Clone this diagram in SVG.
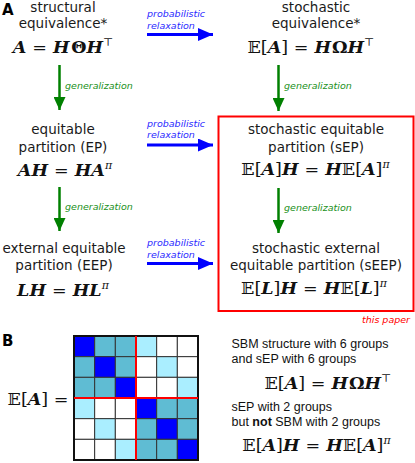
<svg xmlns="http://www.w3.org/2000/svg" width="415" height="463" viewBox="0 0 415 463">
<style>
.lbl{font-family:"DejaVu Sans",sans-serif;font-size:13.5px;fill:#1a1a1a;text-anchor:middle}
.math{font-family:"DejaVu Serif","Liberation Serif",serif;font-size:17.5px;font-weight:bold;font-style:italic;fill:#111;text-anchor:middle}
.up{font-weight:normal;font-style:normal}
.ug{font-style:normal}
.sup{font-size:11px}
.pi{font-size:11px;font-weight:normal}
.blue{font-family:"DejaVu Sans",sans-serif;font-style:italic;font-size:9.5px;fill:#2a2aff}
.green{font-family:"DejaVu Sans",sans-serif;font-style:italic;font-size:9.5px;fill:#1a901a}
.tag{font-family:"DejaVu Sans",sans-serif;font-weight:bold;font-size:15px;fill:#000}
.sans{font-family:"Liberation Sans",Arial,sans-serif;font-size:12.5px;fill:#111}
.barrow{stroke:#0000ff;stroke-width:3;fill:none}
.garrow{stroke:#008000;stroke-width:2.5;fill:none}
.cell{stroke:#333;stroke-width:1}
.d{fill:#0000ff}.m{fill:#5fbcd3}.l{fill:#aaeeff}.w{fill:#ffffff}
</style>
<defs>
<marker id="bh" markerUnits="userSpaceOnUse" markerWidth="16" markerHeight="13" refX="15" refY="6.5" orient="auto"><path d="M0,0 L15,6.5 L0,13 Z" fill="#0000ff"/></marker>
<marker id="gh" markerUnits="userSpaceOnUse" markerWidth="14" markerHeight="12" refX="13" refY="6" orient="auto"><path d="M0,0 L13,6 L0,12 Z" fill="#008000"/></marker>
</defs>

<text class="tag" x="2" y="15">A</text>
<text class="tag" x="2" y="346">B</text>

<g id="connectors">
<line class="barrow" x1="147" y1="34.5" x2="213" y2="34.5" marker-end="url(#bh)"/>
<line class="barrow" x1="147" y1="145" x2="213" y2="145" marker-end="url(#bh)"/>
<line class="barrow" x1="147" y1="263.5" x2="213" y2="263.5" marker-end="url(#bh)"/>
<text class="blue" x="147" y="17">probabilistic</text>
<text class="blue" x="147" y="29">relaxation</text>
<text class="blue" x="147" y="127">probabilistic</text>
<text class="blue" x="147" y="138">relaxation</text>
<text class="blue" x="147" y="246">probabilistic</text>
<text class="blue" x="147" y="258">relaxation</text>
<line class="garrow" x1="59.5" y1="65" x2="59.5" y2="110" marker-end="url(#gh)"/>
<line class="garrow" x1="59.5" y1="187" x2="59.5" y2="231" marker-end="url(#gh)"/>
<line class="garrow" x1="278.5" y1="65" x2="278.5" y2="111" marker-end="url(#gh)"/>
<line class="garrow" x1="278.5" y1="188" x2="278.5" y2="233" marker-end="url(#gh)"/>
<text class="green" x="65" y="89">generalization</text>
<text class="green" x="65" y="210">generalization</text>
<text class="green" x="284" y="89">generalization</text>
<text class="green" x="284" y="211">generalization</text>
</g>

<g id="se">
<text class="lbl" x="63" y="11.5">structural</text>
<text class="lbl" x="63" y="28">equivalence*</text>
<text class="math" x="63" y="53">A <tspan class="up">=</tspan> H<tspan class="ug" dx="1.5">Θ</tspan>H<tspan class="up sup" dy="-7">⊤</tspan></text>
</g>
<g id="stoch-se">
<text class="lbl" x="316" y="11.5">stochastic</text>
<text class="lbl" x="316" y="28">equivalence*</text>
<text class="math" x="311" y="53"><tspan class="up">𝔼[</tspan>A<tspan class="up">] =</tspan> H<tspan class="ug" dx="1">Ω</tspan>H<tspan class="up sup" dy="-7">⊤</tspan></text>
</g>
<g id="ep">
<text class="lbl" x="63" y="133.5">equitable</text>
<text class="lbl" x="63" y="151.5">partition (EP)</text>
<text class="math" x="65" y="176">AH <tspan class="up">=</tspan> HA<tspan class="pi" dy="-7">π</tspan></text>
</g>
<g id="sep">
<rect x="218.5" y="116.5" width="195" height="194.5" fill="none" stroke="#ff0000" stroke-width="2"/>
<text class="lbl" x="316" y="134">stochastic equitable</text>
<text class="lbl" x="316" y="151.5">partition (sEP)</text>
<text class="math" x="315.5" y="175"><tspan class="up">𝔼[</tspan>A<tspan class="up">]</tspan>H <tspan class="up">=</tspan> H<tspan class="up">𝔼[</tspan>A<tspan class="up">]</tspan><tspan class="pi" dy="-7">π</tspan></text>
</g>
<g id="eep">
<text class="lbl" x="64" y="252.5">external equitable</text>
<text class="lbl" x="64" y="270">partition (EEP)</text>
<text class="math" x="63" y="296">LH <tspan class="up">=</tspan> HL<tspan class="pi" dy="-7">π</tspan></text>
</g>
<g id="seep">
<text class="lbl" x="316" y="252.5">stochastic external</text>
<text class="lbl" x="316" y="270">equitable partition (sEEP)</text>
<text class="math" x="314" y="293.5"><tspan class="up">𝔼[</tspan>L<tspan class="up">]</tspan>H <tspan class="up">=</tspan> H<tspan class="up">𝔼[</tspan>L<tspan class="up">]</tspan><tspan class="pi" dy="-7">π</tspan></text>
<text x="410" y="323" text-anchor="end" style="font-family:'DejaVu Sans',sans-serif;font-style:italic;font-size:9.5px;fill:#ff0000">this paper</text>
</g>

<g id="matrix">
<text class="math" x="38" y="405"><tspan class="up">𝔼[</tspan>A<tspan class="up">] =</tspan></text>
<g class="cell">
<rect class="d" x="74" y="336" width="20.67" height="20.67"/><rect class="m" x="94.67" y="336" width="20.67" height="20.67"/><rect class="m" x="115.33" y="336" width="20.67" height="20.67"/><rect class="l" x="136" y="336" width="20.67" height="20.67"/><rect class="w" x="156.67" y="336" width="20.67" height="20.67"/><rect class="w" x="177.33" y="336" width="20.67" height="20.67"/>
<rect class="m" x="74" y="356.67" width="20.67" height="20.67"/><rect class="d" x="94.67" y="356.67" width="20.67" height="20.67"/><rect class="m" x="115.33" y="356.67" width="20.67" height="20.67"/><rect class="w" x="136" y="356.67" width="20.67" height="20.67"/><rect class="l" x="156.67" y="356.67" width="20.67" height="20.67"/><rect class="w" x="177.33" y="356.67" width="20.67" height="20.67"/>
<rect class="m" x="74" y="377.33" width="20.67" height="20.67"/><rect class="m" x="94.67" y="377.33" width="20.67" height="20.67"/><rect class="d" x="115.33" y="377.33" width="20.67" height="20.67"/><rect class="w" x="136" y="377.33" width="20.67" height="20.67"/><rect class="w" x="156.67" y="377.33" width="20.67" height="20.67"/><rect class="l" x="177.33" y="377.33" width="20.67" height="20.67"/>
<rect class="l" x="74" y="398" width="20.67" height="20.67"/><rect class="w" x="94.67" y="398" width="20.67" height="20.67"/><rect class="w" x="115.33" y="398" width="20.67" height="20.67"/><rect class="d" x="136" y="398" width="20.67" height="20.67"/><rect class="m" x="156.67" y="398" width="20.67" height="20.67"/><rect class="m" x="177.33" y="398" width="20.67" height="20.67"/>
<rect class="w" x="74" y="418.67" width="20.67" height="20.67"/><rect class="l" x="94.67" y="418.67" width="20.67" height="20.67"/><rect class="w" x="115.33" y="418.67" width="20.67" height="20.67"/><rect class="m" x="136" y="418.67" width="20.67" height="20.67"/><rect class="d" x="156.67" y="418.67" width="20.67" height="20.67"/><rect class="m" x="177.33" y="418.67" width="20.67" height="20.67"/>
<rect class="w" x="74" y="439.33" width="20.67" height="20.67"/><rect class="w" x="94.67" y="439.33" width="20.67" height="20.67"/><rect class="l" x="115.33" y="439.33" width="20.67" height="20.67"/><rect class="m" x="136" y="439.33" width="20.67" height="20.67"/><rect class="m" x="156.67" y="439.33" width="20.67" height="20.67"/><rect class="d" x="177.33" y="439.33" width="20.67" height="20.67"/>
</g>
<rect x="74" y="336" width="124" height="124" fill="none" stroke="#111" stroke-width="2"/>
<line x1="136" y1="336" x2="136" y2="460" stroke="#ff0000" stroke-width="2"/>
<line x1="74" y1="398" x2="198" y2="398" stroke="#ff0000" stroke-width="2"/>
</g>

<g id="notes">
<text class="sans" x="231.5" y="347.5">SBM structure with 6 groups</text>
<text class="sans" x="231.5" y="362.5">and sEP with 6 groups</text>
<text class="math" x="328" y="388.5"><tspan class="up">𝔼[</tspan>A<tspan class="up">] =</tspan> H<tspan class="ug" dx="1">Ω</tspan>H<tspan class="up sup" dy="-7">⊤</tspan></text>
<text class="sans" x="231.5" y="411">sEP with 2 groups</text>
<text class="sans" x="231.5" y="426">but <tspan font-weight="bold">not</tspan> SBM with 2 groups</text>
<text class="math" x="316.5" y="450.5"><tspan class="up">𝔼[</tspan>A<tspan class="up">]</tspan>H <tspan class="up">=</tspan> H<tspan class="up">𝔼[</tspan>A<tspan class="up">]</tspan><tspan class="pi" dy="-7">π</tspan></text>
</g>
</svg>
